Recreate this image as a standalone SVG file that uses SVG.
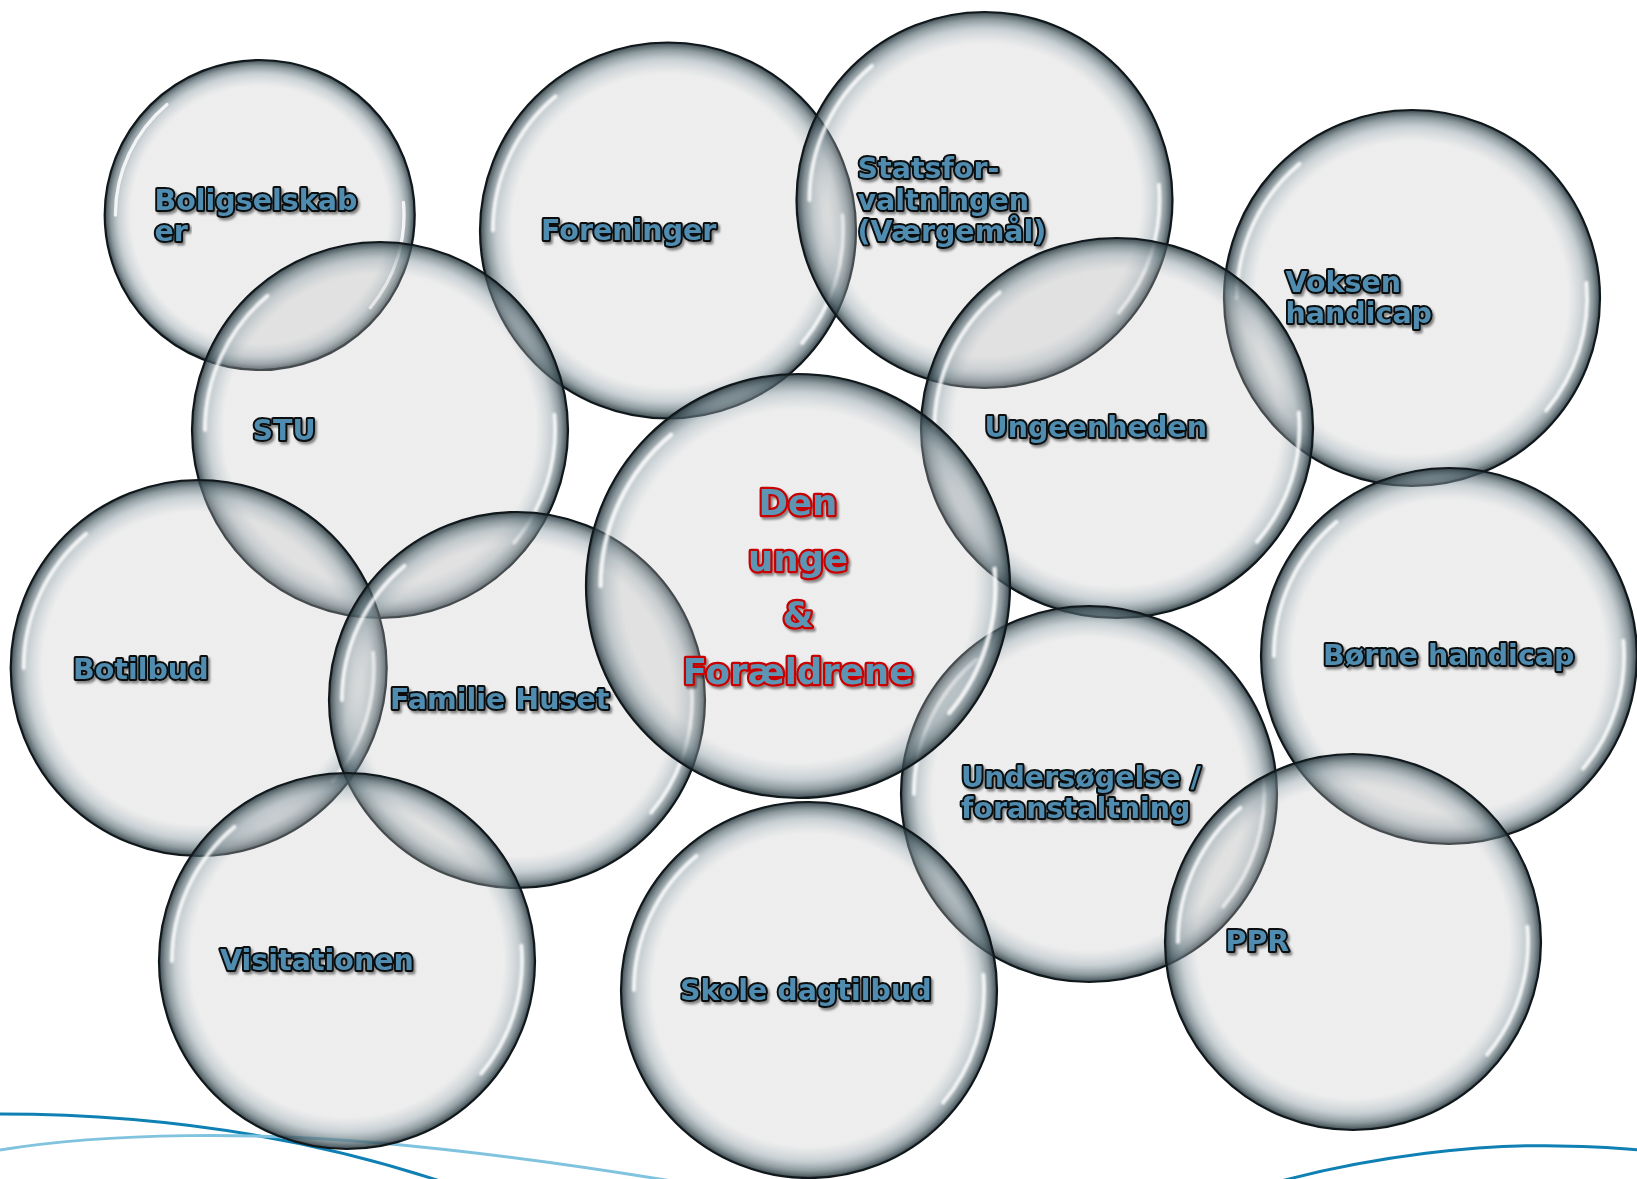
<svg xmlns="http://www.w3.org/2000/svg" xmlns:xlink="http://www.w3.org/1999/xlink" width="1637" height="1179" viewBox="0 0 1637 1179">
<style>
.hl{fill:none;stroke:#ffffff;stroke-width:4;stroke-linecap:round;opacity:0.85;filter:url(#hb)}
.lbl{font-family:"DejaVu Sans",Verdana,sans-serif;font-weight:bold;font-size:28.5px;fill:#4f8cb0;stroke:#070b0d;stroke-width:3.8;paint-order:stroke fill;stroke-linejoin:round;filter:url(#ts)}
.ctr{font-family:"DejaVu Sans",Verdana,sans-serif;font-weight:bold;font-size:35.5px;fill:#5b96b4;stroke:#c80000;stroke-width:4.4;paint-order:stroke fill;stroke-linejoin:round;text-anchor:middle;filter:url(#ts)}
.curve{fill:none;stroke-width:3}
</style>
<defs>
<radialGradient id="bg" cx="50%" cy="50%" r="50%">
<stop offset="0" stop-color="#c4c4c4" stop-opacity="0.3"/>
<stop offset="0.83" stop-color="#c4c4c4" stop-opacity="0.3"/>
<stop offset="0.91" stop-color="#8e9ea5" stop-opacity="0.48"/>
<stop offset="0.96" stop-color="#55686f" stop-opacity="0.66"/>
<stop offset="0.99" stop-color="#2e3e45" stop-opacity="0.82"/>
<stop offset="1" stop-color="#1b272c" stop-opacity="0.92"/>
</radialGradient>
<filter id="ts" x="-10%" y="-30%" width="120%" height="160%">
<feDropShadow dx="2" dy="2.5" stdDeviation="1.2" flood-color="#000000" flood-opacity="0.45"/>
</filter>
<filter id="hb" x="-20%" y="-20%" width="140%" height="140%">
<feGaussianBlur stdDeviation="0.9"/>
</filter>
<g id="bubble">
<circle r="188" fill="url(#bg)" stroke="#10181c" stroke-width="2.2" vector-effect="non-scaling-stroke"/>
<path class="hl" d="M -175 0 A 175 175 0 0 1 -112.5 -134.1"/>
<path class="hl" d="M 174.3 -15.3 A 175 175 0 0 1 134.1 112.5"/>
</g>
</defs>
<rect width="1637" height="1179" fill="#ffffff"/>
<g id="decor">
<path class="curve" stroke="#0e80b4" d="M 0 1114 C 150 1114 300 1135 440 1181"/>
<path class="curve" stroke="#80c3de" d="M 0 1150 C 110 1132 260 1132 380 1143 C 480 1152 580 1166 672 1181"/>
<path class="curve" stroke="#0e80b4" d="M 1281 1181 C 1380 1155 1480 1145 1545 1145.7 C 1590 1146 1620 1148 1640 1150"/>
</g>
<g id="connectors"/>
<g id="node-boligselskaber">
<use xlink:href="#bubble" href="#bubble" transform="translate(259.7 215) scale(0.8245)"/>
<text class="lbl" x="154.5" y="209.5">Boligselskab</text>
<text class="lbl" x="154.5" y="241">er</text>
</g>
<g id="node-foreninger">
<use xlink:href="#bubble" href="#bubble" transform="translate(668 230.5)"/>
<text class="lbl" x="541" y="240">Foreninger</text>
</g>
<g id="node-statsforvaltningen">
<use xlink:href="#bubble" href="#bubble" transform="translate(984.5 200)"/>
<text class="lbl" x="857.5" y="178">Statsfor-</text>
<text class="lbl" x="857.5" y="209.5">valtningen</text>
<text class="lbl" x="857.5" y="241">(Værgemål)</text>
</g>
<g id="node-voksen-handicap">
<use xlink:href="#bubble" href="#bubble" transform="translate(1412 298)"/>
<text class="lbl" x="1285.5" y="291.5">Voksen</text>
<text class="lbl" x="1285.5" y="322.5">handicap</text>
</g>
<g id="node-stu">
<use xlink:href="#bubble" href="#bubble" transform="translate(380 430)"/>
<text class="lbl" x="252.5" y="440">STU</text>
</g>
<g id="node-ungeenheden">
<use xlink:href="#bubble" href="#bubble" transform="translate(1117 428) scale(1.0426 1.0106)"/>
<text class="lbl" x="984.5" y="437">Ungeenheden</text>
</g>
<g id="node-botilbud">
<use xlink:href="#bubble" href="#bubble" transform="translate(198.7 668)"/>
<text class="lbl" x="73" y="678.5">Botilbud</text>
</g>
<g id="node-familie-huset">
<use xlink:href="#bubble" href="#bubble" transform="translate(517 700)"/>
<text class="lbl" x="390" y="709">Familie Huset</text>
</g>
<g id="node-borne-handicap">
<use xlink:href="#bubble" href="#bubble" transform="translate(1449 656)"/>
<text class="lbl" x="1323" y="665">Børne handicap</text>
</g>
<g id="node-undersogelse">
<use xlink:href="#bubble" href="#bubble" transform="translate(1089 794)"/>
<text class="lbl" x="961" y="786.5">Undersøgelse /</text>
<text class="lbl" x="961" y="818">foranstaltning</text>
</g>
<g id="node-ppr">
<use xlink:href="#bubble" href="#bubble" transform="translate(1353 942)"/>
<text class="lbl" x="1225.5" y="950.5">PPR</text>
</g>
<g id="node-visitationen">
<use xlink:href="#bubble" href="#bubble" transform="translate(347 961)"/>
<text class="lbl" x="220" y="970">Visitationen</text>
</g>
<g id="node-skole-dagtilbud">
<use xlink:href="#bubble" href="#bubble" transform="translate(809 990)"/>
<text class="lbl" x="680" y="1000">Skole dagtilbud</text>
</g>
<g id="node-den-unge">
<use xlink:href="#bubble" href="#bubble" transform="translate(798 586) scale(1.1277)"/>
<text class="ctr" x="798" y="515">Den</text>
<text class="ctr" x="798" y="570.5">unge</text>
<text class="ctr" x="798" y="627">&amp;</text>
<text class="ctr" x="798" y="683.5">Forældrene</text>
</g>
</svg>
